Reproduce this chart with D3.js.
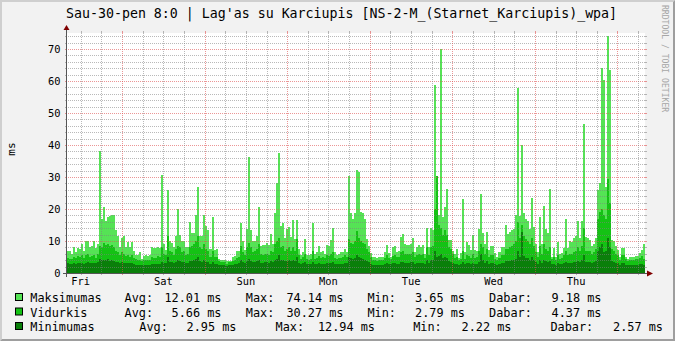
<!DOCTYPE html>
<meta charset="utf-8">
<style>
body { margin: 0; background: #f2f2f2; }
svg { display: block; font-family: "DejaVu Sans Mono", monospace; }
.axis-label { font-size: 10.4px; fill: #000; }
.legend { font-size: 11.86px; fill: #000; white-space: pre; }
</style>
<body></body>
<script src="https://cdnjs.cloudflare.com/ajax/libs/d3/7.8.5/d3.min.js"></script>
<script>
// values every 35 min, Fri 23 Jan 08:00 -> Fri 30 Jan 08:00
var maxVals = [
  7, 6.8, 6, 8, 6.5, 7.7, 7.5, 9, 7, 10, 10, 8, 8.5, 10, 7.7, 9,
  38, 17, 20.5, 16.3, 17.5, 17.7, 18, 18, 13.5, 11.5, 8, 11, 11.5, 8, 9.8, 8,
  9.7, 7, 5.6, 5.6, 6.6, 4.5, 5.2, 5.5, 5.4, 5.6, 8, 7.7, 7.7, 8, 7.7, 30.6,
  9, 7.2, 26, 10, 9.5, 8, 11.6, 20, 11.8, 10, 10, 8, 8, 15.9, 12.5, 12.5,
  18, 27, 11.6, 11.6, 18, 14.7, 13.5, 7.5, 17.6, 7.2, 7.6, 4.3, 4.1, 4.1, 4.1, 3.65,
  3.9, 3.9, 5.1, 5.3, 6.8, 7, 15.5, 10, 7.2, 13.9, 36.4, 13.5, 10, 10, 11.5, 20.6,
  8.3, 8.6, 8.6, 9.3, 8.8, 12.2, 9, 18.6, 28, 37.6, 14.8, 15.5, 11, 13.6, 14.5, 11.2,
  16.5, 10.5, 16.5, 7.6, 5.5, 6.5, 10.5, 5.5, 5.5, 6, 15.7, 6, 6.5, 8.3, 6.5, 7,
  6, 8.8, 8.5, 10.3, 14.2, 6.5, 5.5, 6, 6.5, 6.7, 7.5, 6.5, 30.2, 18.6, 17, 18.6,
  32.2, 31.7, 19.2, 18.8, 16.9, 10.5, 8.4, 6.4, 5.1, 5, 4.8, 5.1, 5, 5.1, 6.6, 8.7,
  6.2, 5.1, 8.1, 8.3, 6.6, 7, 11.4, 12.2, 9.2, 8.7, 8.7, 9.2, 10.8, 6.6, 8.1, 8.7,
  8.1, 8.7, 6, 14, 8.1, 14, 13.5, 58.8, 17.6, 18, 69.9, 17.6, 20.7, 26.1, 10.3, 10.3,
  7, 6, 7.5, 4.6, 6.3, 23.1, 6.5, 9.8, 8.8, 7.2, 11.9, 7.2, 7, 13.6, 24.6, 12.5,
  9.2, 12.9, 7.2, 8.5, 8.5, 6.3, 5.1, 6.6, 8, 8, 15, 12.3, 12.9, 13.4, 13.6, 18,
  57.9, 17.8, 39.9, 18.9, 17, 16.2, 13.6, 23.5, 14.5, 9.2, 6.6, 17.4, 9.2, 20.9, 13.6, 12.4,
  26.1, 5.1, 7.9, 5, 9.7, 5.8, 6.4, 7.9, 16.9, 7.9, 10, 9.7, 11, 11.5, 16.3, 10.9,
  16.3, 46.5, 11.2, 10.9, 10.3, 8.3, 9.2, 11, 26, 28, 64, 60.3, 27, 74.14, 63.4, 10.3,
  9.9, 8.3, 7.2, 5.1, 7.9, 7.9, 5.1, 4.3, 5.1, 4.9, 4.9, 5.3, 5.3, 6.3, 7.2, 9.18
];
var avgVals = [
  4.8, 4.5, 4.3, 5, 4.6, 5.2, 5, 5.5, 4.8, 5.5, 5.8, 5, 5.2, 5.6, 4.6, 5.8,
  8.5, 8, 9.5, 8.6, 9, 8.4, 8.8, 8, 7, 6.5, 5.6, 6.6, 6, 5.2, 5.6, 5,
  5.6, 4.8, 4.3, 4, 4.2, 3.8, 4, 4.1, 4.2, 4.1, 5, 4.8, 4.8, 5.2, 5, 8,
  6, 5.5, 11.5, 7, 6.5, 5.5, 7.5, 8.5, 8, 6.5, 7, 5.5, 5.8, 8, 8.5, 9,
  10, 11.5, 8, 7.5, 9, 7.5, 7, 5, 7, 5, 5, 3.6, 3.5, 3.4, 3.4, 2.79,
  3.3, 3.4, 3.8, 4, 4.8, 5, 8.5, 6.5, 5.5, 8, 9.5, 8, 6.5, 7, 7.5, 9,
  6, 5.5, 5.8, 6, 5.5, 7, 6.5, 9, 10, 11, 8, 8.5, 7, 7.5, 8, 7,
  8, 7, 10.5, 5.5, 4.5, 5, 6, 4.3, 4.2, 4.5, 7, 4.5, 4.6, 5.3, 4.8, 5,
  4.6, 5.5, 5.3, 6, 6.5, 4.8, 4.4, 4.6, 4.8, 5, 5.5, 5, 10.5, 9.5, 9, 10,
  13, 11, 10, 9.5, 9, 7.5, 6.5, 5, 4.2, 4, 3.9, 4, 4, 4.2, 4.8, 5.5,
  4.8, 4.3, 5.3, 5.5, 5, 5, 6.5, 7, 6, 5.8, 6, 6, 6.5, 5, 5.5, 6,
  5.5, 5.8, 4.8, 8, 5.5, 8, 8.5, 20, 30.27, 15, 14, 12, 13.5, 12, 8, 7.5,
  6, 4.8, 5, 4, 4.5, 7, 4.5, 5.5, 5.3, 4.8, 6, 4.8, 5, 7, 9, 8,
  6, 7.5, 5, 5.5, 5.5, 4.5, 4.2, 4.8, 5.5, 5.5, 7.5, 7.5, 8, 8.5, 9, 10,
  16, 11, 15, 11.5, 10.5, 10, 9, 11, 8.5, 6.5, 5, 8.5, 6, 9, 7.5, 7,
  8, 4.5, 5, 4.2, 5.5, 4.5, 4.8, 5.5, 7, 5.5, 6, 6, 6.5, 7, 8, 7,
  8.5, 14, 7, 7, 7, 6, 6.5, 7.5, 17, 19, 20, 18, 17, 29.5, 22, 7.5,
  7, 6, 5.5, 4.2, 5.5, 5.5, 4.3, 3.8, 4.2, 4.1, 4.1, 4.3, 4.3, 4.8, 5.2, 4.37
];
var minVals = [
  3, 2.9, 2.8, 3, 2.9, 3, 3, 3.1, 2.9, 3.2, 3.3, 3, 3, 3.2, 3, 3.3,
  4.5, 4, 4.2, 4, 4.4, 3.9, 4, 3.8, 3.5, 3.4, 3.1, 3.4, 3.2, 3, 3.1, 3,
  3.1, 2.9, 2.6, 2.5, 2.6, 2.5, 2.5, 2.6, 2.6, 2.6, 2.8, 2.8, 2.8, 2.9, 2.9, 3.5,
  3.2, 3, 5, 3.4, 3.3, 3, 3.5, 4, 3.8, 3.3, 3.4, 3.1, 3.1, 3.6, 3.8, 4,
  4.3, 5, 3.6, 3.5, 4, 3.5, 3.4, 2.9, 3.3, 2.9, 2.9, 2.6, 2.5, 2.5, 2.5, 2.22,
  2.4, 2.5, 2.6, 2.7, 2.9, 3, 4, 3.5, 3.2, 3.8, 4.5, 3.8, 3.4, 3.5, 3.6, 4,
  3.2, 3.2, 3.3, 3.3, 3.2, 3.6, 3.4, 4, 4.5, 5.5, 4, 4.2, 3.7, 3.8, 4, 3.6,
  4, 3.6, 5, 3.1, 2.8, 3, 3.3, 2.7, 2.7, 2.8, 3.5, 2.8, 2.8, 3, 2.9, 2.9,
  2.8, 3.1, 3, 3.2, 3.4, 2.9, 2.8, 2.8, 2.9, 2.9, 3.1, 3, 5, 4.6, 4.4, 4.8,
  5.5, 5, 4.6, 4.4, 4.2, 3.6, 3.3, 2.9, 2.6, 2.5, 2.5, 2.5, 2.5, 2.6, 2.8, 3,
  2.8, 2.7, 3, 3.1, 2.9, 2.9, 3.4, 3.5, 3.2, 3.2, 3.2, 3.3, 3.4, 2.9, 3, 3.2,
  3, 3.1, 2.8, 4, 3, 4, 4.2, 7, 5, 5.2, 6, 4.8, 5, 4.6, 3.6, 3.5,
  3.2, 2.8, 2.9, 2.5, 2.7, 3.5, 2.7, 3, 3, 2.8, 3.2, 2.8, 2.9, 3.5, 6, 4,
  3.2, 3.6, 2.9, 3, 3, 2.7, 2.6, 2.8, 3, 3, 3.6, 3.6, 3.8, 4, 4.2, 4.5,
  7, 5, 12.94, 5.2, 4.8, 4.6, 4.2, 5, 4, 3.3, 2.8, 4, 3.2, 4.2, 3.6, 3.5,
  3.8, 2.7, 2.9, 2.6, 3, 2.7, 2.8, 3, 3.5, 3, 3.2, 3.2, 3.4, 3.5, 3.8, 3.5,
  4, 5.5, 3.5, 3.5, 3.4, 3.1, 3.3, 3.6, 7, 8, 9, 6.5, 7, 11, 8, 3.6,
  3.5, 3.2, 3, 2.6, 3, 3, 2.6, 2.4, 2.5, 2.5, 2.5, 2.6, 2.6, 2.8, 2.9, 2.57
];
var yTicks = [0, 10, 20, 30, 40, 50, 60, 70];
var seriesNames = ["Maksimumas", "Vidurkis", "Minimumas"];
var statAvg = ["12.01", "5.66", "2.95"];
var statMax = ["74.14", "30.27", "12.94"];
var statMin = ["3.65", "2.79", "2.22"];
var statNow = ["9.18", "4.37", "2.57"];
var title = "Sau-30-pen 8:0 | Lag'as su Karciupis [NS-2-M_(Starnet_Karciupis)_wpa]";

var W = 675, H = 341;
var x0 = 67, x1 = 645, yTop = 33, yBot = 273;
var start = new Date(2015, 0, 23, 8, 0), end = new Date(2015, 0, 30, 8, 0);
var stepMin = 35;
var colors = ["#55e355", "#14c214", "#0a7f0a"];

var x = d3.scaleTime().domain([start, end]).range([x0, x1]);
var y = d3.scaleLinear().domain([0, 75]).range([yBot, yTop]);

var svg = d3.select("body").append("svg")
    .attr("width", W)
    .attr("height", H);

// background + shading
svg.append("rect").attr("width", W).attr("height", H).attr("fill", "#f2f2f2");
svg.append("path").attr("fill", "#cfcfcf")
    .attr("d", "M0,0L0," + H + "L2," + (H - 2) + "L2,2L" + (W - 2) + ",2L" + W + ",0Z");
svg.append("path").attr("fill", "#9e9e9e")
    .attr("d", "M0," + H + "L" + W + "," + H + "L" + W + ",0L" + (W - 2) + ",2L" + (W - 2) + "," + (H - 2) + "L2," + (H - 2) + "Z");

svg.append("rect")
    .attr("x", x0).attr("y", yTop)
    .attr("width", x1 - x0).attr("height", yBot - yTop)
    .attr("fill", "#fff");

// areas
function series(vals) {
  var pts = vals.map(function(v, i) { return {t: d3.timeMinute.offset(start, i * stepMin), v: v}; });
  pts.push({t: end, v: vals[vals.length - 1]});
  return pts;
}
var area = d3.area()
    .curve(d3.curveStepAfter)
    .x(function(d) { return x(d.t); })
    .y0(y(0))
    .y1(function(d) { return y(d.v); });

[maxVals, avgVals, minVals].forEach(function(vals, k) {
  svg.append("path")
      .datum(series(vals))
      .attr("fill", colors[k])
      .attr("shape-rendering", "crispEdges")
      .attr("d", area);
});

// grid (drawn over the data like rrdtool does)
var minorCol = "rgba(128,128,128,0.55)", majorCol = "rgba(222,80,80,0.6)";
var g = svg.append("g").attr("shape-rendering", "crispEdges");

var hMinor = d3.range(2, 75, 2).filter(function(v) { return v % 10 !== 0; });
var hMajor = yTicks.filter(function(v) { return v > 0; });
function hLine(v, col) {
  var yy = Math.round(y(v)) + 0.5;
  g.append("line").attr("x1", x0 + 1).attr("x2", x1).attr("y1", yy).attr("y2", yy)
      .attr("stroke", col).attr("stroke-dasharray", "1,1");
  g.append("line").attr("x1", x0 - 2).attr("x2", x0).attr("y1", yy).attr("y2", yy).attr("stroke", col);
  g.append("line").attr("x1", x1).attr("x2", x1 + 2).attr("y1", yy).attr("y2", yy).attr("stroke", col);
}
hMinor.forEach(function(v) { hLine(v, minorCol); });
hMajor.forEach(function(v) { hLine(v, majorCol); });

var days = d3.timeDay.range(start, end);
var sixHours = d3.timeHour.every(6).range(start, end).filter(function(t) { return t.getHours() !== 0; });
function vLine(t, col) {
  var xx = Math.round(x(t)) + 0.5;
  g.append("line").attr("x1", xx).attr("x2", xx).attr("y1", yTop).attr("y2", yBot)
      .attr("stroke", col).attr("stroke-dasharray", "1,1");
  g.append("line").attr("x1", xx).attr("x2", xx).attr("y1", yTop - 2).attr("y2", yTop).attr("stroke", col);
  g.append("line").attr("x1", xx).attr("x2", xx).attr("y1", yBot).attr("y2", yBot + 2).attr("stroke", col);
}
sixHours.forEach(function(t) { vLine(t, minorCol); });
days.forEach(function(t) { vLine(t, majorCol); });

// axes
g.append("line").attr("x1", x0 - 4).attr("x2", x1 + 4).attr("y1", yBot + 0.5).attr("y2", yBot + 0.5).attr("stroke", "#555");
g.append("line").attr("x1", x0 - 0.5).attr("x2", x0 - 0.5).attr("y1", yBot + 4).attr("y2", yTop - 4).attr("stroke", "#555");
svg.append("path").attr("fill", "#800000")
    .attr("d", "M" + (x1 + 2) + "," + (yBot - 3 + 0.5) + "L" + (x1 + 2) + "," + (yBot + 3 + 0.5) + "L" + (x1 + 8) + "," + (yBot + 0.5) + "Z");
svg.append("path").attr("fill", "#800000")
    .attr("d", "M" + (x0 - 3.5) + "," + (yTop - 3) + "L" + (x0 + 2.5) + "," + (yTop - 3) + "L" + (x0 - 0.5) + "," + (yTop - 8) + "Z");

// y labels
svg.selectAll(".ylab").data(yTicks).enter().append("text")
    .attr("class", "axis-label")
    .attr("x", x0 - 6.5)
    .attr("y", function(d) { return Math.round(y(d)) + 4; })
    .attr("text-anchor", "end")
    .text(function(d) { return d; });

// x labels at noon
var fmt = d3.timeFormat("%a");
var noons = d3.timeDay.range(d3.timeDay.offset(start, -1), end)
    .map(function(d) { return d3.timeHour.offset(d, 12); })
    .filter(function(t) { return t >= start && t <= end; });
svg.selectAll(".xlab").data(noons).enter().append("text")
    .attr("class", "axis-label")
    .attr("x", function(d) { return x(d); })
    .attr("y", yBot + 12)
    .attr("text-anchor", "middle")
    .text(function(d) { return fmt(d); });

// unit
svg.append("text")
    .attr("transform", "translate(14.5,149) rotate(-90)")
    .attr("text-anchor", "middle")
    .style("font-size", "11px")
    .text("ms");

// title
svg.append("text")
    .attr("x", 66)
    .attr("y", 18)
    .style("font-size", "13.27px")
    .text(title);

// watermark
svg.append("text")
    .attr("transform", "translate(662,5) rotate(90)")
    .style("font-size", "8.1px")
    .attr("fill", "#a6a6a6")
    .text("RRDTOOL / TOBI OETIKER");

// legend
var rowY = [302, 316.5, 331];
var colX = [
  [124.6, 221.5, 245.8, 343.5, 367.4, 465, 489, 601.5],
  [124.6, 221.5, 245.8, 343.5, 367.4, 465, 489, 601.5],
  [139.3, 236.5, 275.6, 375, 413.2, 511.5, 550.4, 663]
];
seriesNames.forEach(function(name, k) {
  var ry = rowY[k], cx = colX[k];
  svg.append("rect")
      .attr("x", 15.5).attr("y", ry - 8.5)
      .attr("width", 7).attr("height", 7)
      .attr("fill", colors[k]).attr("stroke", "#000");
  var row = svg.append("g").attr("class", "legend");
  row.append("text").attr("x", 30.3).attr("y", ry).text(name);
  var parts = [["Avg:", statAvg[k]], ["Max:", statMax[k]], ["Min:", statMin[k]], ["Dabar:", statNow[k]]];
  parts.forEach(function(p, j) {
    row.append("text").attr("x", cx[j * 2]).attr("y", ry).text(p[0]);
    row.append("text").attr("x", cx[j * 2 + 1]).attr("y", ry)
        .attr("text-anchor", "end").text(p[1] + " ms");
  });
});
</script>
